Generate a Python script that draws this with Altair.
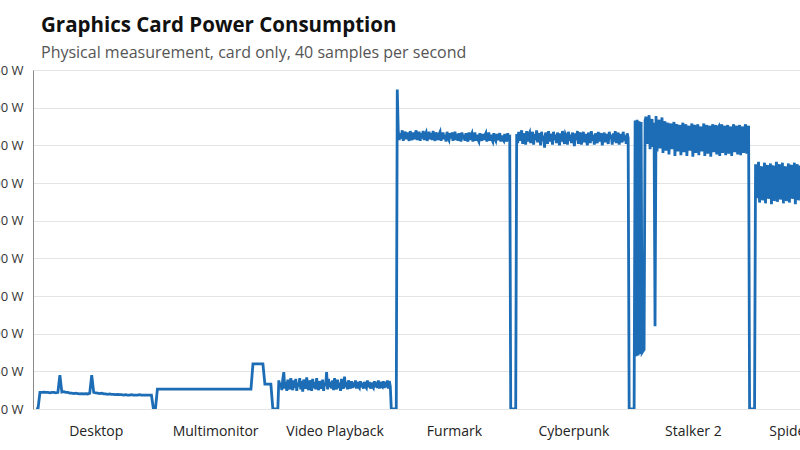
import altair as alt
import pandas as pd

# Test scenes, one per segment of the recording
scenes = ["Desktop", "Multimonitor", "Video Playback", "Furmark",
          "Cyberpunk", "Stalker 2", "Spider-Man 2"]

# Board power in watts for each scene (decimated readings)
desktop_w = [0, 0, 22, 22, 22.5, 22, 22, 21.5, 22, 22, 21.5, 22, 45, 22.5, 23, 22,
             22, 21, 21, 20.5, 21, 20.5, 20, 20.5, 20, 20.5, 20, 21, 45, 22, 21.5,
             21, 20.5, 21, 20, 20, 19.5, 20, 19.5, 19.5, 19, 19.5, 19, 19, 18.5,
             19, 18.5, 18.5, 19, 18.5, 18.5, 18.5, 19, 18.5, 18.5, 18.5, 18.5,
             18.5, 18.5, 0]

multimonitor_w = [0] + [26.5] * 48 + [60] * 6 + [33] * 4 + [0]

video_w = [0, 0, 0, 0,
           38, 29, 35, 25, 40, 49, 27, 36, 24, 39, 31, 26, 41, 33, 25, 38, 28, 40, 24, 35,
           30, 41, 26, 37, 23, 39, 32, 27, 42, 29, 25, 38, 34, 24, 40, 28, 36, 26, 41, 30,
           25, 37, 33, 27, 39, 24, 35, 31, 49, 26, 40, 29, 36, 27, 38, 25, 41, 32, 26, 39,
           28, 35, 24, 40, 30, 27, 43, 29, 36, 26, 38, 31, 27, 37, 28, 35, 29, 38, 27, 36,
           30, 28, 37, 29, 35, 27, 36, 30, 28, 38, 29, 36, 27, 35, 30, 28, 37, 29, 36, 28,
           38, 27, 36, 30, 29, 37, 28, 36, 29, 38, 27, 37, 30,
           0, 0, 0]

furmark_w = [0, 0, 0, 424,
             368, 357, 366, 359, 370, 356, 364, 368, 358, 367, 360, 356, 369, 362, 357, 367, 358, 365, 370, 357,
             363, 368, 356, 366, 359, 369, 357, 364, 367, 356, 361, 368, 358, 366, 357, 369, 360, 356, 367, 363,
             357, 365, 368, 356, 362, 367, 358, 364, 355, 368, 360, 357, 366, 359, 367, 356, 363, 368, 357, 365,
             356, 366, 361, 355, 367, 358, 364, 356, 366, 360, 355, 367, 357, 363, 366, 355, 362, 367, 356, 364,
             358, 355, 366, 360, 356, 365, 357, 363, 366, 355, 361, 367, 356, 364, 358, 355, 366, 359, 356, 365,
             357, 362, 366, 355, 363, 358, 356, 365, 360, 355, 366, 357, 364,
             0, 0, 0]

cyberpunk_w = [0, 0, 0,
               365, 353, 368, 356, 362, 370, 352, 366, 358, 351, 369, 355, 364, 367, 353, 360, 368, 351, 365, 357,
               370, 354, 362, 366, 350, 368, 356, 363, 347, 367, 359, 352, 369, 355, 365, 361, 351, 368, 357, 364,
               353, 367, 360, 350, 366, 355, 369, 358, 352, 365, 362, 351, 368, 356, 364, 353, 367, 359, 349, 366,
               357, 369, 352, 363, 367, 351, 360, 368, 354, 365, 357, 350, 367, 362, 353, 369, 356, 364, 351, 366,
               358, 353, 368, 355, 363, 366, 350, 361, 367, 354, 365, 357, 352, 368, 359, 364, 351, 366, 355, 369,
               353, 362, 367, 351, 365, 358, 354, 368, 356, 363, 352, 366, 360,
               0, 0, 0, 0]

stalker_w = [0, 0, 383, 70, 384, 71, 382, 73, 381, 75, 77, 79, 383,
             388, 352, 376, 390, 345, 372, 385, 348, 380, 110, 389, 342, 378, 384, 346, 370, 387, 340, 375, 382,
             343, 368, 380, 338, 373, 379, 345, 366, 381, 336, 374, 378, 342, 369, 377, 337, 372, 380, 341, 365,
             378, 336, 371, 376, 343, 367, 379, 335, 373, 377, 340, 364, 378, 337, 370, 375, 342, 366, 379, 336,
             372, 377, 339, 368, 376, 335, 371, 378, 341, 365, 377, 338, 373, 375, 336, 369, 378, 340, 366, 376,
             337, 372, 377, 339, 364, 375, 336, 370, 378, 341, 367, 376, 338, 371, 377, 337, 365, 375, 340, 372,
             378, 339, 368, 376,
             0, 0, 0]

spiderman_w = [0, 0, 0,
               325, 280, 310, 328, 274, 318, 322, 277, 305, 327, 273, 315, 324, 279, 300, 326, 272, 320, 323, 276,
               308, 328, 275, 313, 325, 278, 302, 327, 273, 317, 322, 276, 306, 326, 274, 319, 324, 279, 303, 327,
               272, 316, 325, 277, 309, 323, 275, 320]

# (readings, readings per scene) for each scene in order
segments = [(desktop_w, 60), (multimonitor_w, 60), (video_w, 120), (furmark_w, 120),
            (cyberpunk_w, 120), (stalker_w, 120), (spiderman_w, 120)]

rows = []
for k, (values, n) in enumerate(segments):
    for i, w in enumerate(values):
        rows.append({"t": k + i / n, "watts": w})
df = pd.DataFrame(rows)

label_expr = "[" + ",".join("'" + s + "'" for s in scenes) + "][floor(datum.value)]"
tick_pos = [k + 0.5 for k in range(len(scenes))]

chart = (
    alt.Chart(df)
    .mark_line(clip=True, strokeWidth=2.8, color="#1c6db5")
    .encode(
        x=alt.X(
            "t:Q",
            scale=alt.Scale(domain=[-0.025, 7], nice=False, zero=False),
            axis=alt.Axis(
                values=tick_pos, labelExpr=label_expr, grid=False, ticks=False,
                domain=False, title=None, labelFontSize=14, labelPadding=15,
                labelOverlap=False, labelFlush=False, labelColor="#222",
                labelFont="Open Sans",
            ),
        ),
        y=alt.Y(
            "watts:Q",
            scale=alt.Scale(domain=[0, 450], nice=False),
            axis=alt.Axis(
                values=list(range(0, 451, 50)), labelExpr="datum.value + ' W'",
                ticks=False, domain=True, domainColor="#8a8a8a", gridColor="#e4e4e4",
                labelPadding=10, labelFontSize=13, labelColor="#333", title=None,
                labelFont="Open Sans",
            ),
        ),
    )
    .properties(
        width=839,
        height=339,
        autosize=alt.AutoSizeParams(type="none"),
        padding={"left": 33, "top": 70, "right": -72, "bottom": 41},
        title=alt.TitleParams(
            text="Graphics Card Power Consumption",
            subtitle="Physical measurement, card only, 40 samples per second",
            anchor="start", frame="group", font="Open Sans", fontSize=20.5,
            fontWeight="bold", color="#111", subtitleFont="Open Sans",
            subtitleFontSize=16, subtitleColor="#555", subtitlePadding=9,
            offset=3, dx=8,
        ),
    )
    .configure_view(stroke=None)
    .configure(background="white")
)

chart.save("out.html", embed_options={"renderer": "svg", "actions": False})
